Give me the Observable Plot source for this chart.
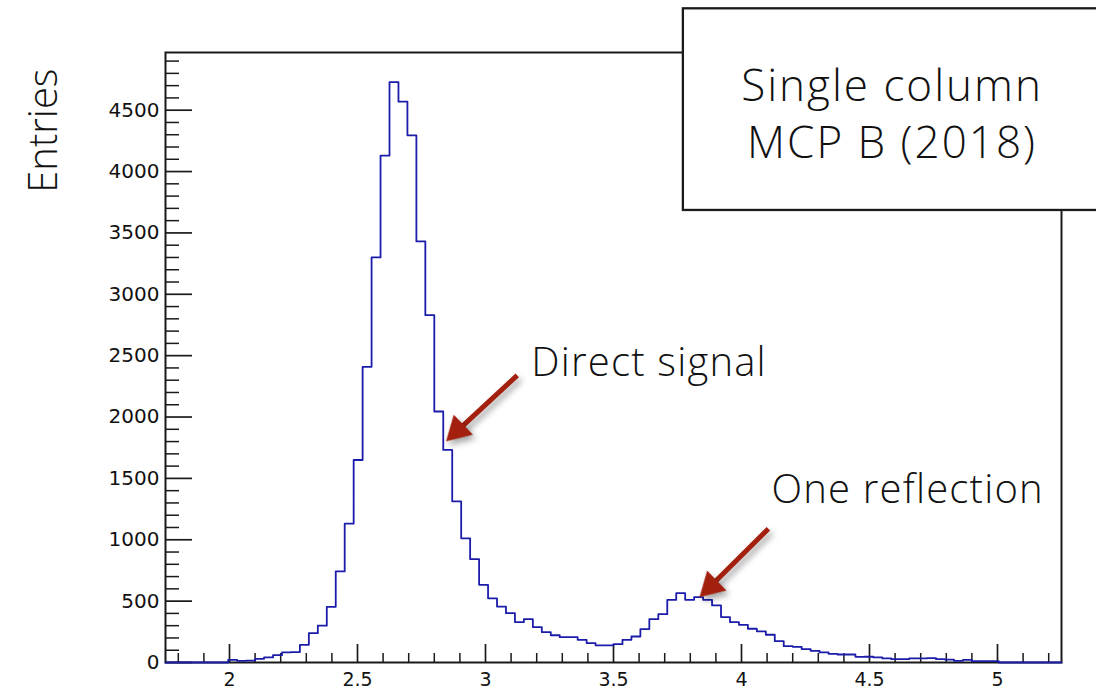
<!DOCTYPE html>
<html>
<head>
<meta charset="utf-8">
<script src="https://cdn.jsdelivr.net/npm/d3@7"></script>
<script src="https://cdn.jsdelivr.net/npm/@observablehq/plot@0.6"></script>
<style>
  html, body { margin: 0; padding: 0; background: #fff; }
  #chart { width: 1096px; height: 691px; overflow: hidden; }
</style>
</head>
<body>
<div id="chart"></div>
<script>
// ---- Data ----
const binLow = 1.75;
const binWidth = 0.035;
const counts = [
  0, 0, 0, 0, 0, 0, 0,
  22, 14, 16, 30, 41, 60, 82, 85, 144, 239,
  300, 454, 742, 1131, 1650, 2409, 3300, 4130, 4728, 4569,
  4295, 3431, 2830, 2045, 1732, 1312, 1012, 842, 633, 523,
  456, 402, 329, 353, 288, 247, 222, 206, 206, 185,
  158, 139, 139, 149, 185, 212, 272, 353, 394, 511,
  565, 511, 533, 511, 465, 370, 329, 307, 275, 254,
  226, 174, 133, 128, 109, 95, 82, 71, 65, 65,
  46, 47, 41, 33, 27, 27, 33, 33, 35, 27,
  24, 14, 22, 11, 11, 11,
  0, 0, 0, 0, 0, 0, 0
];

const xMajorTicks = [2, 2.5, 3, 3.5, 4, 4.5, 5];
const xMinorTicks = [1.8, 1.9, 2.1, 2.2, 2.3, 2.4, 2.6, 2.7, 2.8, 2.9, 3.1, 3.2, 3.3, 3.4,
  3.6, 3.7, 3.8, 3.9, 4.1, 4.2, 4.3, 4.4, 4.6, 4.7, 4.8, 4.9, 5.1, 5.2];
const yMajorTicks = [0, 500, 1000, 1500, 2000, 2500, 3000, 3500, 4000, 4500];
const yMinorTicks = [100, 200, 300, 400, 600, 700, 800, 900, 1100, 1200, 1300, 1400,
  1600, 1700, 1800, 1900, 2100, 2200, 2300, 2400, 2600, 2700, 2800, 2900,
  3100, 3200, 3300, 3400, 3600, 3700, 3800, 3900, 4100, 4200, 4300, 4400,
  4600, 4700, 4800, 4900];

const yLabel = "Entries";
const noteLabels = ["Direct signal", "One reflection"];
const noteX = [3.179, 4.117];
const noteY = [2440, 1402];
const arrowStartX = [3.124, 4.105];
const arrowStartY = [2340, 1090];
const arrowTipX = [2.846, 3.836];
const arrowTipY = [1802, 532];
const boxText = "Single column\nMCP B (2018)";
const boxTextX = [4.588];
const boxTextY = [4490];
const boxX1 = [3.773], boxX2 = [5.45], boxY1 = [3683], boxY2 = [5326];

// ---- Derived tables ----
const steps = counts.map((c, i) => ({x: binLow + i * binWidth, y: c}));
steps.push({x: binLow + counts.length * binWidth, y: counts[counts.length - 1]});
const notes = noteLabels.map((t, i) => ({t, x: noteX[i], y: noteY[i]}));
const arrows = arrowStartX.map((_, i) => ({
  x1: arrowStartX[i], y1: arrowStartY[i], x2: arrowTipX[i], y2: arrowTipY[i]
}));
const box = [{x1: boxX1[0], x2: boxX2[0], y1: boxY1[0], y2: boxY2[0]}];
const boxLabel = [{t: boxText, x: boxTextX[0], y: boxTextY[0]}];

const W = 1096, H = 691;
const mL = 165, mR = 35, mT = 52, mB = 29;
const frameW = W - mL - mR, frameH = H - mT - mB;
const axisColor = "#1a1a1a";
const histColor = "#1c1caa";
const arrowColor = "#a3200f";
const annotFont = "'Open Sans', 'Roboto', 'Liberation Sans', sans-serif";

const plot = Plot.plot({
  width: W,
  height: H,
  marginLeft: mL,
  marginRight: mR,
  marginTop: mT,
  marginBottom: mB,
  style: {fontFamily: "'DejaVu Sans', sans-serif", fontSize: "20px", background: "#fff", color: "#111", overflow: "hidden"},
  x: {domain: [1.75, 5.25], axis: null},
  y: {domain: [0, 4970], axis: null},
  marks: [
    Plot.frame({stroke: axisColor, strokeWidth: 2}),
    // inward ticks
    Plot.tickX(xMajorTicks, {x: d => d, insetTop: frameH - 18, stroke: axisColor, strokeWidth: 1.7}),
    Plot.tickX(xMinorTicks, {x: d => d, insetTop: frameH - 9, stroke: axisColor, strokeWidth: 1.5}),
    Plot.tickY(yMajorTicks, {y: d => d, insetRight: frameW - 27, stroke: axisColor, strokeWidth: 1.7}),
    Plot.tickY(yMinorTicks, {y: d => d, insetRight: frameW - 14, stroke: axisColor, strokeWidth: 1.5}),
    // tick labels
    Plot.axisX({ticks: xMajorTicks, tickSize: 0, tickPadding: 10, tickFormat: d => String(d), fill: "#111", fontSize: 19}),
    Plot.axisY({ticks: yMajorTicks, tickSize: 0, tickPadding: 6, tickFormat: d => String(d), fill: "#111", label: null}),
    // histogram outline
    Plot.line(steps, {x: "x", y: "y", curve: "step-after", stroke: histColor, strokeWidth: 1.8}),
    // arrows
    Plot.link(arrows, {
      x1: "x1", y1: "y1",
      x2: d => d.x2 + (d.x1 - d.x2) * 0.2,
      y2: d => d.y2 + (d.y1 - d.y2) * 0.2,
      stroke: arrowColor, strokeWidth: 5
    }),
    Plot.dot(arrows, {x: "x2", y: "y2", symbol: "triangle", r: 10.3, rotate: 226, dx: 11.5, dy: -11.1, fill: arrowColor, stroke: "none"}),
    // annotations
    Plot.text(notes, {x: "x", y: "y", text: "t", textAnchor: "start", lineAnchor: "middle",
      fontSize: 40, fontWeight: 300, fontFamily: annotFont, fill: "#111"}),
    // legend box
    Plot.rect(box, {x1: "x1", x2: "x2", y1: "y1", y2: "y2", fill: "#fff", stroke: axisColor, strokeWidth: 2.3}),
    Plot.text(boxLabel, {x: "x", y: "y", text: "t", textAnchor: "middle", lineAnchor: "middle", lineHeight: 1.3,
      fontSize: 44, fontWeight: 300, fontFamily: annotFont, fill: "#111"}),
    // y title
    Plot.text([yLabel], {frameAnchor: "top-left", text: d => d, rotate: -90, textAnchor: "end", lineAnchor: "middle",
      dx: 44 - mL, dy: 68 - mT, fontSize: 40, fontWeight: 300, fontFamily: annotFont, fill: "#111"})
  ]
});

plot.querySelectorAll('g[aria-label="link"], g[aria-label="dot"]').forEach(g => {
  g.style.filter = "drop-shadow(3px 4px 3px rgba(0,0,0,0.35))";
});
const textGroups = plot.querySelectorAll('g[aria-label="text"]');
if (textGroups[0]) textGroups[0].style.letterSpacing = "1.2px";
if (textGroups[1]) textGroups[1].style.letterSpacing = "2px";

document.getElementById("chart").appendChild(plot);
</script>
</body>
</html>
